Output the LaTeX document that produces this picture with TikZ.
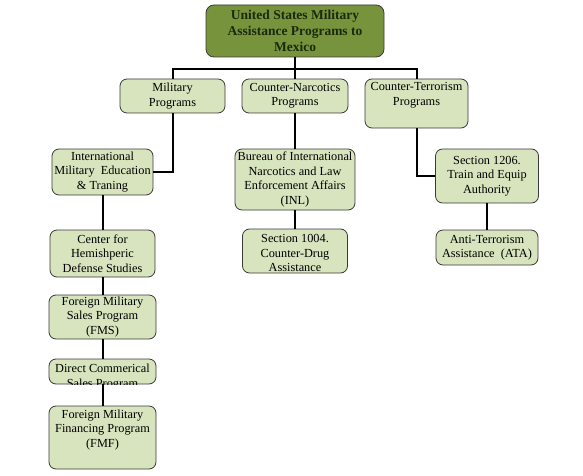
\documentclass[tikz,border=0pt]{standalone}
\usepackage{fontspec}
\setmainfont{Liberation Serif}
\definecolor{boxfill}{HTML}{D7E4BD}
\definecolor{headfill}{HTML}{77933C}
\definecolor{boxline}{HTML}{3A3A3A}
\definecolor{headink}{HTML}{1C2A0C}

\begin{document}
\begin{tikzpicture}[
  x=1pt,
  y=-1pt,
  every node/.style={font=\fontsize{12.3}{14.5}\selectfont, align=center, inner sep=0pt},
  progbox/.style={draw=boxline, line width=0.8pt, fill=boxfill, rounded corners=7pt},
  headbox/.style={draw=boxline, line width=0.8pt, fill=headfill, rounded corners=8pt,
                  text=headink, font=\fontsize{13.5}{16}\selectfont\bfseries},
  link/.style={black, line width=2pt}
]
  \useasboundingbox (0,0) rectangle (583,476);

  % ---- top of the tree ----
  \node[headbox, minimum width=178pt, minimum height=52pt] (top) at (295,31)
    {United States Military\\Assistance Programs to\\Mexico};

  % ---- three program groups ----
  \node[progbox, minimum width=105pt, minimum height=34pt] (mil) at (172.5,96)
    {Military\\Programs};
  \node[progbox, minimum width=106pt, minimum height=34pt] (cn) at (295,96)
    {Counter-Narcotics\\Programs};
  \node[progbox, minimum width=103pt, minimum height=49pt, text depth=19pt] (ct) at (416.5,103.5)
    {Counter-Terrorism\\Programs};

  % ---- military column ----
  \node[progbox, minimum width=101pt, minimum height=46pt] (imet) at (102.5,172)
    {International\\Military\ \ Education\\\& Traning};
  \node[progbox, minimum width=105pt, minimum height=47pt] (chds) at (102.5,253.5)
    {Center for\\Hemishperic\\Defense Studies};
  \node[progbox, minimum width=107pt, minimum height=44pt] (fms) at (102.5,317)
    {Foreign Military\\Sales Program\\(FMS)};
  \node[progbox, minimum width=107pt, minimum height=25pt] (dcs) at (102.5,371.5) {};
  \begin{scope}
    \clip[rounded corners=7pt] (dcs.north west) rectangle (dcs.south east);
    \node[anchor=north] (dcstext) at ([yshift=-5.5pt]dcs.north)
      {Direct Commerical\\Sales Program};
  \end{scope}
  \node[progbox, minimum width=107pt, minimum height=63pt, text depth=18pt] (fmf) at (102.5,437.5)
    {Foreign Military\\Financing Program\\(FMF)};

  % ---- counter-narcotics column ----
  \node[progbox, minimum width=120pt, minimum height=61pt] (inl) at (295,179.5)
    {Bureau of International\\Narcotics and Law\\Enforcement Affairs\\(INL)};
  \node[progbox, minimum width=105pt, minimum height=44pt, text height=41pt, text depth=-3pt] (sec1004) at (295,251)
    {Section 1004.\\Counter-Drug\\Assistance};

  % ---- counter-terrorism column ----
  \node[progbox, minimum width=103pt, minimum height=54pt] (sec1206) at (487,176)
    {Section 1206.\\Train and Equip\\Authority};
  \node[progbox, minimum width=102pt, minimum height=35pt] (ata) at (487,247.5)
    {Anti-Terrorism\\Assistance\ \ (ATA)};

  % ---- connectors ----
  \coordinate (bus) at (295,69);
  \draw[link] (top) -- (cn);
  \draw[link] (mil.north) |- (bus) -| (ct.north);
  \draw[link] (mil.south) |- (imet.east);
  \draw[link] (imet) -- (chds);
  \draw[link] (chds) -- (fms);
  \draw[link] (fms) -- (dcs);
  \draw[link] (dcs) -- (fmf);
  \draw[link] (cn) -- (inl);
  \draw[link] (inl) -- (sec1004);
  \draw[link] (ct.south) |- (sec1206.west);
  \draw[link] (sec1206) -- (ata);
\end{tikzpicture}
\end{document}
